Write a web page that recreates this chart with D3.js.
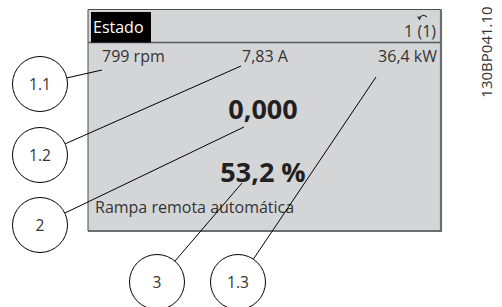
<!DOCTYPE html>
<html>
<head>
<meta charset="utf-8">
<script src="https://cdn.jsdelivr.net/npm/d3@7"></script>
<style>
  body { margin: 0; background: #fff; }
  svg { display: block; font-family: "Open Sans", sans-serif; }
</style>
</head>
<body>
<div id="chart"></div>
<script>
// display contents
var header_title = "Estado";
var header_setup = "1 (1)";
var small_readouts = ["799 rpm", "7,83 A", "36,4 kW"];
var big_readouts = ["0,000", "53,2 %"];
var status_text = "Rampa remota automática";
var callout_labels = ["1.1", "1.2", "2", "3", "1.3"];
// which readout each callout points to
var callout_targets = ["small0", "small1", "big0", "big1", "small2"];
var doc_code = "130BP041.10";

var width = 502, height = 307;

// layout, in picture pixels
var panel = { x0 : 88, y0 : 9.5, x1 : 441, y1 : 231 };
var sx = d3.scaleLinear().domain([0, 1]).range([panel.x0, panel.x1]);
var sy = d3.scaleLinear().domain([0, 1]).range([panel.y0, panel.y1]);

var small_pos = [
	{ x : 102, y : 62, anchor : "start" },
	{ x : 242, y : 62, anchor : "start" },
	{ x : 437, y : 62, anchor : "end" }
];
var big_pos = [
	{ x : 263, y : 119 },
	{ x : 263, y : 182 }
];
var circle_pos = [
	{ x : 40, y : 84 },
	{ x : 40, y : 155 },
	{ x : 40, y : 225 },
	{ x : 157, y : 282 },
	{ x : 238, y : 282 }
];
// leader line end points
var leader_ends = [
	{ x : 102, y : 70 },
	{ x : 241, y : 66 },
	{ x : 244, y : 127 },
	{ x : 242, y : 183 },
	{ x : 376, y : 77 }
];
var r = 27.5;

var svg = d3.select("#chart").append("svg")
	.attr("width", width)
	.attr("height", height);

var g = svg.append("g");

// panel
g.append("rect")
	.attr("x", sx(0))
	.attr("y", sy(0))
	.attr("width", sx(1) - sx(0))
	.attr("height", sy(1) - sy(0))
	.style("fill", "#d4d5d7")
	.style("stroke", "none");

// right + bottom edge heavier
g.append("path")
	.attr("d", "M" + sx(1) + "," + sy(0) + " L" + sx(1) + "," + sy(1) + " L" + sx(0) + "," + sy(1))
	.style("fill", "none")
	.style("stroke", "#6d6e70")
	.style("stroke-width", 2.2);

g.append("path")
	.attr("d", "M" + sx(0) + "," + sy(1) + " L" + sx(0) + "," + sy(0) + " L" + sx(1) + "," + sy(0))
	.style("fill", "none")
	.style("stroke", "#4d4d4f")
	.style("stroke-width", 1);

// header separator
g.append("line")
	.attr("x1", sx(0))
	.attr("x2", sx(1))
	.attr("y1", 42.5)
	.attr("y2", 42.5)
	.style("stroke", "#58595b")
	.style("stroke-width", 1.4);

// header title box
g.append("rect")
	.attr("x", 91)
	.attr("y", 12)
	.attr("width", 60)
	.attr("height", 30.5)
	.style("fill", "#000");

g.append("text")
	.attr("x", 93)
	.attr("y", 32.5)
	.style("fill", "#fff")
	.style("font-size", "16px")
	.text(header_title);

g.append("text")
	.attr("x", 436)
	.attr("y", 37)
	.style("text-anchor", "end")
	.style("fill", "#333")
	.style("font-size", "16px")
	.text(header_setup);

// little "back" arrow above the set-up number
g.append("path")
	.attr("d", "M419,19 Q422,13 427,17")
	.style("fill", "none")
	.style("stroke", "#333")
	.style("stroke-width", 1.1);
g.append("path")
	.attr("d", "M417,16.5 L419.5,20.5 L421.5,16.8 Z")
	.style("fill", "#333");

// small readouts
g.selectAll(".small_readout").data(small_readouts)
	.enter()
	.append("text")
	.attr("class", "small_readout")
	.attr("x", function(d, i){ return small_pos[i].x; })
	.attr("y", function(d, i){ return small_pos[i].y; })
	.style("text-anchor", function(d, i){ return small_pos[i].anchor; })
	.style("fill", "#333")
	.style("font-size", "16px")
	.text(function(d){ return d; });

// big readouts
g.selectAll(".big_readout").data(big_readouts)
	.enter()
	.append("text")
	.attr("class", "big_readout")
	.attr("x", function(d, i){ return big_pos[i].x; })
	.attr("y", function(d, i){ return big_pos[i].y; })
	.style("text-anchor", "middle")
	.style("fill", "#231f20")
	.style("font-size", "27px")
	.style("font-weight", "bold")
	.text(function(d){ return d; });

g.append("text")
	.attr("x", 95)
	.attr("y", 213)
	.style("fill", "#333")
	.style("font-size", "16px")
	.text(status_text);

// callouts
var callouts = g.selectAll(".callout").data(callout_labels)
	.enter()
	.append("g")
	.attr("class", "callout");

callouts.append("line")
	.attr("x1", function(d, i){
		var c = circle_pos[i], e = leader_ends[i];
		var a = Math.atan2(e.y - c.y, e.x - c.x);
		return c.x + r * Math.cos(a);
	})
	.attr("y1", function(d, i){
		var c = circle_pos[i], e = leader_ends[i];
		var a = Math.atan2(e.y - c.y, e.x - c.x);
		return c.y + r * Math.sin(a);
	})
	.attr("x2", function(d, i){ return leader_ends[i].x; })
	.attr("y2", function(d, i){ return leader_ends[i].y; })
	.style("stroke", "#000")
	.style("stroke-width", 1);

callouts.append("circle")
	.attr("cx", function(d, i){ return circle_pos[i].x; })
	.attr("cy", function(d, i){ return circle_pos[i].y; })
	.attr("r", r)
	.style("fill", "#fff")
	.style("stroke", "#000")
	.style("stroke-width", 1);

callouts.append("text")
	.attr("x", function(d, i){ return circle_pos[i].x; })
	.attr("y", function(d, i){ return circle_pos[i].y + 5.5; })
	.style("text-anchor", "middle")
	.style("fill", "#333")
	.style("font-size", "15.5px")
	.text(function(d){ return d; });

// drawing number
g.append("text")
	.attr("transform", "translate(492,52) rotate(-90)")
	.style("text-anchor", "middle")
	.style("fill", "#333")
	.style("font-size", "15px")
	.text(doc_code);
</script>
</body>
</html>
